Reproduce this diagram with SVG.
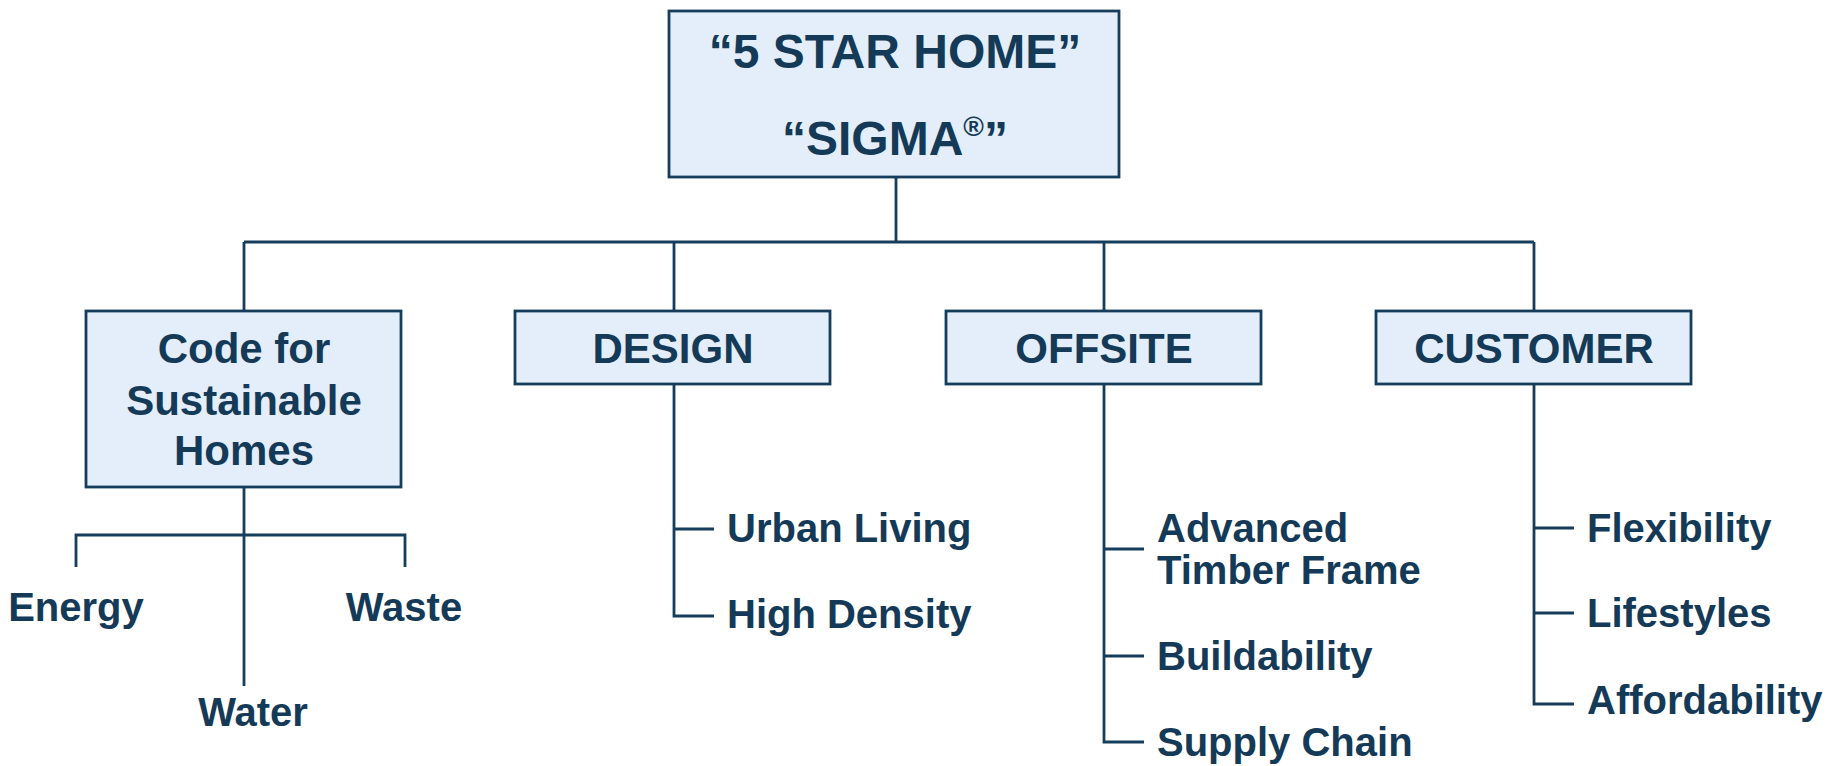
<svg xmlns="http://www.w3.org/2000/svg" width="1832" height="766" viewBox="0 0 1832 766">
<style>
.box{fill:#E3EEFA;stroke:#173D5C;stroke-width:2.8}
.ln{fill:none;stroke:#173D5C;stroke-width:2.8}
text{font-family:"Liberation Sans",Arial,sans-serif;font-weight:bold;fill:#143A58}
.h{font-size:48px;text-anchor:middle}
.b{font-size:42px;text-anchor:middle}
.c{font-size:40px}
.cm{font-size:40px;text-anchor:middle}
</style>
<rect width="1832" height="766" fill="#FFFFFF"/>
<g id="connectors">
<path class="ln" d="M896 177V242M244 242H1534M244 242V311M674 242V311M1104 242V311M1534 242V311"/>
<path class="ln" d="M244 487V686M76 567V535H405V567"/>
<path class="ln" d="M674 384V616H714M674 529H714"/>
<path class="ln" d="M1104 384V742H1144M1104 549H1144M1104 656H1144"/>
<path class="ln" d="M1534 384V704H1574M1534 528H1574M1534 613H1574"/>
</g>
<g id="root">
<rect class="box" x="669" y="11" width="450" height="166"/>
<text class="h" x="895" y="68">“5 STAR HOME”</text>
<text class="h" x="895" y="155">“SIGMA<tspan font-size="28" dy="-19">®</tspan><tspan dy="19">”</tspan></text>
</g>
<g id="code">
<rect class="box" x="86" y="311" width="315" height="176"/>
<text class="b" x="244" y="363">Code for</text>
<text class="b" x="244" y="415">Sustainable</text>
<text class="b" x="244" y="465">Homes</text>
</g>
<g id="design">
<rect class="box" x="515" y="311" width="315" height="73"/>
<text class="b" x="673" y="363">DESIGN</text>
</g>
<g id="offsite">
<rect class="box" x="946" y="311" width="315" height="73"/>
<text class="b" x="1104" y="363">OFFSITE</text>
</g>
<g id="customer">
<rect class="box" x="1376" y="311" width="315" height="73"/>
<text class="b" x="1534" y="363">CUSTOMER</text>
</g>
<g id="energy"><text class="cm" x="76" y="621">Energy</text></g>
<g id="waste"><text class="cm" x="404" y="621">Waste</text></g>
<g id="water"><text class="cm" x="253" y="726">Water</text></g>
<g id="urban-living"><text class="c" x="727" y="542">Urban Living</text></g>
<g id="high-density"><text class="c" x="727" y="628">High Density</text></g>
<g id="advanced-timber-frame"><text class="c" x="1157" y="542">Advanced</text><text class="c" x="1157" y="584">Timber Frame</text></g>
<g id="buildability"><text class="c" x="1157" y="670">Buildability</text></g>
<g id="supply-chain"><text class="c" x="1157" y="756">Supply Chain</text></g>
<g id="flexibility"><text class="c" x="1587" y="542">Flexibility</text></g>
<g id="lifestyles"><text class="c" x="1587" y="627">Lifestyles</text></g>
<g id="affordability"><text class="c" x="1587" y="714">Affordability</text></g>
</svg>
